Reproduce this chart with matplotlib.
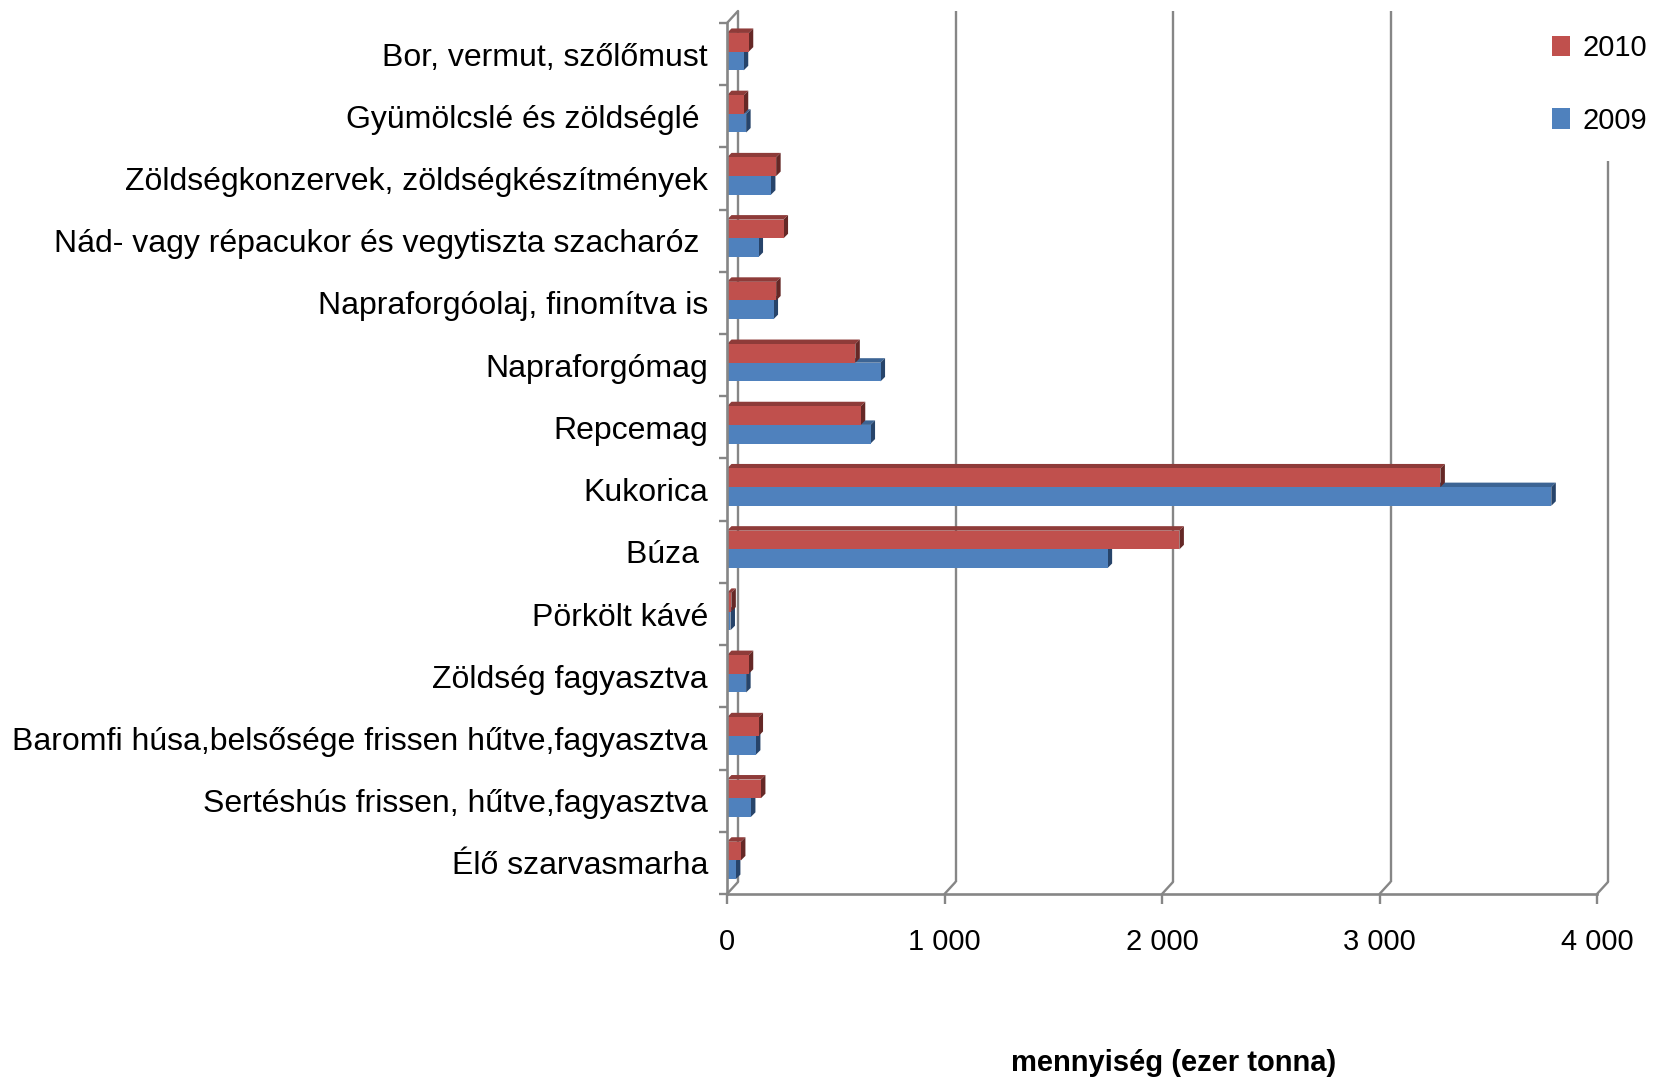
import matplotlib
matplotlib.use('Agg')
import matplotlib.pyplot as plt
from matplotlib.transforms import ScaledTranslation
from matplotlib.patches import Polygon, ConnectionPatch, Patch
import numpy as np

# adatok (ezer tonna), felülről lefelé
categories = [
    'Bor, vermut, szőlőmust',
    'Gyümölcslé és zöldséglé ',
    'Zöldségkonzervek, zöldségkészítmények',
    'Nád- vagy répacukor és vegytiszta szacharóz ',
    'Napraforgóolaj, finomítva is',
    'Napraforgómag',
    'Repcemag',
    'Kukorica',
    'Búza ',
    'Pörkölt kávé',
    'Zöldség fagyasztva',
    'Baromfi húsa,belsősége frissen hűtve,fagyasztva',
    'Sertéshús frissen, hűtve,fagyasztva',
    'Élő szarvasmarha',
]
v2010 = [100, 77, 226, 260, 226, 590, 615, 3280, 2080, 20, 100, 145, 156, 64]
v2009 = [77, 88, 202, 145, 214, 706, 660, 3790, 1750, 16, 88, 133, 110, 41]
xticks = [0, 1000, 2000, 3000, 4000]
xticklabels = ['0', '1 000', '2 000', '3 000', '4 000']
series_labels = ['2010', '2009']

font = 'Liberation Sans'
red, red_top, red_side = '#C0504D', '#8E3B39', '#652826'
blue, blue_top, blue_side = '#4F81BD', '#3C6494', '#27446A'
grid = '#868686'

W, H = 1653, 1084
fig = plt.figure(figsize=(W / 100, H / 100), dpi=100)
L, R, T, B = 727, 1597, 23, 894
ax = fig.add_axes([L / W, 1 - B / H, (R - L) / W, (B - T) / H])
n = len(categories)
xmax = 4000
ax.set_xlim(0, xmax)
ax.set_ylim(n, 0)

# hátsó fal (3D hatás)
back = ax.transData + ScaledTranslation(11 / 100, 12 / 100, fig.dpi_scale_trans)
ax.vlines(xticks, 0, n, colors=grid, lw=1.7, transform=back, clip_on=False, zorder=0)
for x in xticks:
    fig.add_artist(ConnectionPatch((x, n), (x, n), coordsA=ax.transData, coordsB=back,
                                   color=grid, lw=1.7, zorder=0.5))
fig.add_artist(ConnectionPatch((0, 0), (0, 0), coordsA=ax.transData, coordsB=back,
                               color=grid, lw=1.7, zorder=0.5))

# oszlopok
depth = 4.5
ddx = depth * xmax / (R - L)
ddy = depth * n / (B - T)
off, h = 0.16, 0.30


def bar3d(y0, val, front, topc, side, z):
    ax.add_patch(Polygon([(0, y0), (val, y0), (val + ddx, y0 - ddy), (ddx, y0 - ddy)],
                         closed=True, fc=topc, ec='none', zorder=z))
    ax.add_patch(Polygon([(val, y0), (val + ddx, y0 - ddy), (val + ddx, y0 + h - ddy), (val, y0 + h)],
                         closed=True, fc=side, ec='none', zorder=z))
    ax.barh(y0, val, height=h, align='edge', color=front, zorder=z + 0.05)


for i in range(n):
    bar3d(i + off + h, v2009[i], blue, blue_top, blue_side, 2)
for i in range(n):
    bar3d(i + off, v2010[i], red, red_top, red_side, 2.2)

for s in ['top', 'right']:
    ax.spines[s].set_visible(False)
for s in ['left', 'bottom']:
    ax.spines[s].set_color(grid)
    ax.spines[s].set_linewidth(1.9)

ax.set_xticks(xticks, xticklabels, fontfamily=font, fontsize=21)
ax.tick_params(axis='x', length=7, width=1.7, color=grid, pad=17.8)
ax.set_yticks(np.arange(n) + 0.5, categories, fontfamily=font, fontsize=23)
ax.set_yticks(np.arange(n + 1), minor=True)
ax.tick_params(axis='y', which='major', length=0, pad=13.7)
ax.tick_params(axis='y', which='minor', length=6, width=1.7, color=grid)

handles = [Patch(fc=red), Patch(fc=blue)]
fig.legend(handles, series_labels, loc='upper left', bbox_to_anchor=(1526 / W, 1 - 8 / H),
           prop={'family': font, 'size': 21}, frameon=True, facecolor='white',
           edgecolor='none', framealpha=1, fancybox=False, handlelength=0.62,
           handleheight=0.72, handletextpad=0.41, labelspacing=1.52, borderpad=0.9,
           borderaxespad=0)

fig.text(1174 / W, 1 - 1063 / H, 'mennyiség (ezer tonna)', ha='center', va='center',
         fontsize=21, fontweight='bold', family=font)

fig.savefig('out.png', dpi=100)
